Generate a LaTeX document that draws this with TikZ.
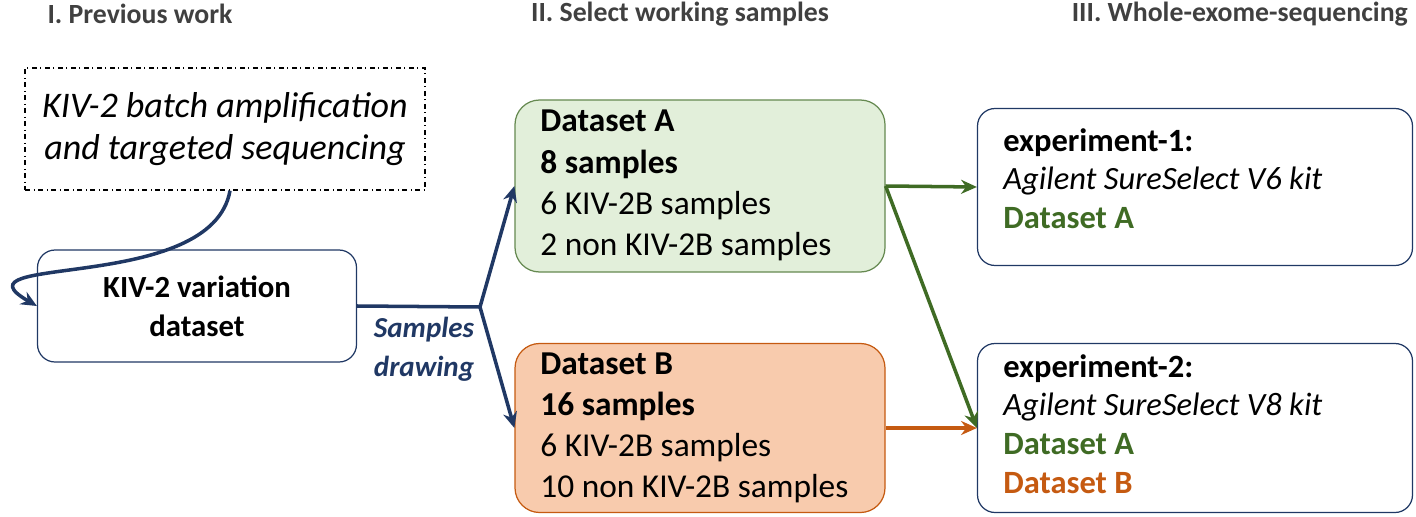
\documentclass[tikz,border=0pt]{standalone}
\usepackage{fontspec}
\setmainfont{Carlito}
\usetikzlibrary{arrows.meta,positioning}
\definecolor{navy}{HTML}{203864}
\definecolor{dgreen}{HTML}{3F6B24}
\definecolor{lgreen}{HTML}{E2EFDA}
\definecolor{dorange}{HTML}{C55A11}
\definecolor{lorange}{HTML}{F8CBAD}
\definecolor{headgray}{HTML}{404040}
\begin{document}
\begin{tikzpicture}[x=0.02cm,y=-0.02cm,font=\fontsize{19}{23.5}\selectfont,
    head/.style={font=\fontsize{15.8}{19}\selectfont\bfseries,text=headgray},
    box/.style={draw=navy,rounded corners=10pt,line width=0.7pt},
    databox/.style={rounded corners=14pt,line width=0.7pt,align=left,inner sep=0pt},
    flow/.style={line width=2pt,-{Stealth[length=9pt,width=8pt]}}]
  \useasboundingbox (0,0) rectangle (1416,517);
  % headings
  \node[head] (h1) at (140,14) {I. Previous work};
  \node[head] (h2) at (680,14) {II. Select working samples};
  \node[head,anchor=east] (h3) at (1414,14) {III. Whole-exome-sequencing};
  % previous work
  \node[draw,dash dot,line width=0.8pt,minimum width=400*0.02cm,minimum height=122*0.02cm,
        align=center,font=\fontsize{20.5}{24}\selectfont\itshape] (prev) at (225,129)
        {KIV-2 batch amplification\\and targeted sequencing};
  \node[box,minimum width=319*0.02cm,minimum height=112*0.02cm,align=center,
        font=\fontsize{17.5}{22}\selectfont\bfseries] (kiv) at (197,306) {KIV-2 variation\\dataset};
  % datasets
  \node[databox,fill=lgreen,draw=dgreen!80,minimum width=370*0.02cm,minimum height=172*0.02cm] (da) at (700,186) {};
  \node[anchor=north west,align=left,inner sep=0pt] (dat) at (540,110)
        {\textbf{Dataset A}\\\textbf{8 samples}\\6 KIV-2B samples\\2 non KIV-2B samples};
  \node[databox,fill=lorange,draw=dorange,minimum width=370*0.02cm,minimum height=169*0.02cm] (db) at (700,428) {};
  \node[anchor=north west,align=left,inner sep=0pt] (dbt) at (540,352)
        {\textbf{Dataset B}\\\textbf{16 samples}\\6 KIV-2B samples\\10 non KIV-2B samples};
  % experiments
  \node[box,minimum width=435*0.02cm,minimum height=157*0.02cm] (e1) at (1195,187) {};
  \node[anchor=north west,align=left,inner sep=0pt,font=\fontsize{18.5}{22}\selectfont] (e1t) at (1003,128)
        {\textbf{experiment-1:}\\\textit{Agilent SureSelect V6 kit}\\\textcolor{dgreen}{\textbf{Dataset A}}};
  \node[box,minimum width=435*0.02cm,minimum height=169*0.02cm] (e2) at (1195,428) {};
  \node[anchor=north west,align=left,inner sep=0pt,font=\fontsize{18.5}{22}\selectfont] (e2t) at (1003,354)
        {\textbf{experiment-2:}\\\textit{Agilent SureSelect V8 kit}\\\textcolor{dgreen}{\textbf{Dataset A}}\\\textcolor{dorange}{\textbf{Dataset B}}};
  % connectors
  \coordinate (split) at (480,307);
  \draw[flow,navy] (prev.south) ++(5,0) to[out=-100,in=150,looseness=1.2] (kiv.west);
  \draw[navy,line width=2pt] (kiv.east) -- (split);
  \draw[flow,navy] (split) -- (da.west);
  \draw[flow,navy] (split) -- (db.west);
  \node[font=\fontsize{16.5}{22}\selectfont\bfseries\itshape,text=navy,align=center] (lab) at (424,349) {Samples\\drawing};
  \draw[flow,dgreen] (da.east) -- (e1.west);
  \draw[flow,dgreen] (da.east) -- (e2.west);
  \draw[flow,dorange] (db.east) -- (e2.west);
\end{tikzpicture}
\end{document}
